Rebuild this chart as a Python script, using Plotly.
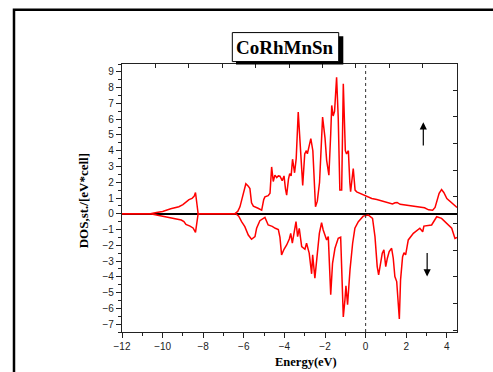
import plotly.graph_objects as go

# Spin-up DOS (energy in eV, states per eV per cell)
energy_up = [-12.0, -10.6, -10.3, -10.0, -9.6, -9.2, -9.0, -8.85, -8.7, -8.55, -8.45, -8.38, -8.3, -8.25,
             -6.45, -6.3, -6.19, -6.05, -5.9, -5.78, -5.7, -5.62, -5.53, -5.3, -5.12, -5.02, -4.96, -4.8,
             -4.71, -4.63, -4.55, -4.47, -4.38, -4.3, -4.22, -4.11, -4.02, -3.95, -3.89, -3.8, -3.74, -3.67,
             -3.6, -3.5, -3.42, -3.32, -3.24, -3.17, -3.1, -3.0, -2.92, -2.87, -2.8, -2.7, -2.6, -2.53,
             -2.47, -2.38, -2.27, -2.12, -2.0, -1.92, -1.81, -1.72, -1.67, -1.6, -1.53, -1.43, -1.35,
             -1.27, -1.18, -1.1, -1.0, -0.94, -0.85, -0.78, -0.74, -0.61, -0.52, -0.44, -0.2, 0.0, 0.3,
             0.55, 0.8, 1.0, 1.2, 1.32, 1.45, 1.55, 1.7, 2.0, 2.3, 2.6, 2.9, 3.1, 3.3, 3.42, 3.52, 3.62,
             3.74, 3.85, 4.0, 4.2, 4.35, 4.5]
dos_up = [0.0, 0.0, 0.08, 0.15, 0.32, 0.45, 0.58, 0.76, 0.9, 0.98, 1.1, 1.35, 0.5, 0.0,
          0.0, 0.15, 0.44, 1.2, 1.9, 1.75, 1.6, 0.7, 0.48, 0.35, 0.23, 0.9, 1.07, 1.15,
          1.3, 2.97, 2.05, 2.45, 2.3, 2.4, 2.38, 2.1, 2.4, 1.6, 1.18, 2.2, 2.55, 2.4,
          3.46, 2.6, 3.5, 6.45, 4.8, 3.4, 1.8, 3.8, 4.0, 3.8, 4.3, 4.77, 4.0, 1.7,
          0.44, 0.8, 2.0, 6.13, 4.8, 3.39, 2.45, 5.08, 6.87, 6.2, 6.5, 8.66, 6.1,
          1.5, 1.5, 8.24, 4.0, 3.8, 4.0, 2.0, 1.4, 2.87, 1.5, 1.39, 1.25, 1.12, 0.97,
          0.91, 0.82, 0.76, 0.7, 0.62, 0.7, 0.72, 0.6, 0.55, 0.5, 0.44, 0.38, 0.25, 0.22, 0.4, 0.9, 1.3,
          1.54, 1.35, 0.97, 0.72, 0.55, 0.4]

# Spin-down DOS (plotted as negative values)
energy_dn = [-12.0, -10.6, -10.3, -10.0, -9.5, -9.08, -8.95, -8.85, -8.65, -8.5, -8.38, -8.32, -8.25,
             -6.4, -6.25, -6.11, -5.95, -5.78, -5.62, -5.45, -5.37, -5.21, -4.96, -4.8, -4.6, -4.45,
             -4.3, -4.22, -4.14, -4.02, -3.89, -3.76, -3.69, -3.61, -3.5, -3.43, -3.35, -3.27, -3.15,
             -2.99, -2.91, -2.78, -2.66, -2.61, -2.5, -2.38, -2.28, -2.17, -2.09, -1.92, -1.84, -1.72,
             -1.63, -1.51, -1.35, -1.23, -1.18, -1.1, -1.02, -0.97, -0.89, -0.77, -0.64, -0.53, -0.36,
             -0.12, 0.13, 0.34, 0.46, 0.57, 0.64, 0.7, 0.82, 0.9, 0.99, 1.07, 1.16, 1.28, 1.36, 1.44,
             1.53, 1.66, 1.72, 1.82, 1.89, 1.97, 2.1, 2.35, 2.67, 2.81, 2.87, 3.25, 3.5, 3.74, 3.99,
             4.24, 4.4, 4.5]
dos_dn = [0.0, 0.0, -0.08, -0.15, -0.3, -0.4, -0.5, -0.68, -0.78, -0.9, -1.18, -0.6, 0.0,
          0.0, -0.15, -0.5, -0.82, -1.35, -1.62, -1.45, -0.92, -0.44, -0.23, -0.71, -0.8, -0.92,
          -1.0, -1.5, -2.61, -2.25, -1.98, -1.6, -1.24, -1.87, -1.0, -0.5, -1.45, -0.92, -2.09,
          -2.25, -1.87, -2.5, -3.81, -2.61, -4.08, -2.5, -1.24, -0.57, -1.03, -1.66, -1.45, -5.14,
          -3.14, -2.19, -1.56, -1.49, -3.35, -6.55, -5.46, -4.57, -5.77, -3.56, -1.87, -0.92, -0.5,
          -0.15, -0.08, -0.29, -1.45, -3.35, -3.88, -3.35, -2.5, -2.29, -3.35, -2.82, -2.4, -2.19, -2.82, -3.98,
          -4.3, -6.68, -4.19, -2.72, -2.47, -2.61, -1.66, -1.24, -0.92, -1.14, -0.78, -0.71, -0.19, -0.29, -0.61,
          -0.92, -1.56, -1.5]

x_ticks = [-12, -10, -8, -6, -4, -2, 0, 2, 4]
y_ticks = [-7, -6, -5, -4, -3, -2, -1, 0, 1, 2, 3, 4, 5, 6, 7, 8, 9]

RED = "#ff0000"
SERIF = "Liberation Serif, Times New Roman, serif"
SANS = "Liberation Sans, Arial, sans-serif"

fig = go.Figure()
fig.add_trace(go.Scatter(x=energy_up, y=dos_up, mode="lines",
                         line=dict(color=RED, width=1.5), showlegend=False))
fig.add_trace(go.Scatter(x=energy_dn, y=dos_dn, mode="lines",
                         line=dict(color=RED, width=1.5), showlegend=False))
# carrier trace for the mirrored top/right tick axes
fig.add_trace(go.Scatter(x=[None], y=[None], xaxis="x2", yaxis="y2",
                         showlegend=False, hoverinfo="skip"))

axis_font = dict(family=SANS, size=10, color="#222")

fig.update_layout(
    width=493, height=372,
    margin=dict(l=122, r=36, t=64, b=40),
    paper_bgcolor="white", plot_bgcolor="white",
    xaxis=dict(range=[-12, 4.5], tickvals=x_ticks, ticks="outside", ticklen=5,
               tickwidth=1, tickcolor="#222", showline=True, linecolor="#222",
               linewidth=1.3, mirror=True, showgrid=False, zeroline=False,
               tickfont=axis_font,
               minor=dict(dtick=1, tick0=0, ticks="outside", ticklen=3,
                          tickcolor="#222", showgrid=False)),
    yaxis=dict(range=[-7.5, 9.5], tickvals=y_ticks, ticks="outside", ticklen=5,
               tickwidth=1, tickcolor="#222", showline=True, linecolor="#222",
               linewidth=1.3, mirror=True, showgrid=False,
               zeroline=True, zerolinecolor="black", zerolinewidth=1.5,
               tickfont=axis_font,
               minor=dict(dtick=0.5, tick0=0, ticks="outside", ticklen=3,
                          tickcolor="#222", showgrid=False)),
    xaxis2=dict(overlaying="x", side="top", range=[0, 10.03], dtick=1, tick0=0,
                ticks="inside", ticklen=4, tickcolor="#222", showticklabels=False,
                showgrid=False, zeroline=False, showline=False),
    yaxis2=dict(overlaying="y", side="right", range=[-0.064, 9.985], dtick=1, tick0=0,
                ticks="inside", ticklen=4, tickcolor="#222", showticklabels=False,
                showgrid=False, zeroline=False, showline=False),
)

# Fermi level marker
fig.add_shape(type="line", xref="x", yref="paper", x0=0, x1=0, y0=0, y1=1,
              line=dict(color="#333", width=1, dash="dot"))

# outer frame
fig.add_shape(type="rect", xref="paper", yref="paper",
              x0=-0.3224, x1=1.25, y0=-0.3, y1=1.2022,
              line=dict(color="black", width=2.5), fillcolor="rgba(0,0,0,0)")

# title box with drop shadow
fig.add_shape(type="rect", xref="paper", yref="paper",
              x0=0.3403, x1=0.6606, y0=0.9978, y1=1.1034,
              line=dict(color="black", width=0), fillcolor="black")
fig.add_shape(type="rect", xref="paper", yref="paper",
              x0=0.3293, x1=0.6469, y0=1.009, y1=1.1172,
              line=dict(color="black", width=1), fillcolor="white")
fig.add_annotation(xref="paper", yref="paper", x=0.488, y=1.0623,
                   xanchor="center", yanchor="middle",
                   text="<b>CoRhMnSn</b>", showarrow=False,
                   font=dict(family=SERIF, size=19, color="black"))

# axis titles
fig.add_annotation(xref="paper", yref="paper", x=-0.1164, y=0.4877,
                   xanchor="center", yanchor="middle",
                   text="<b>DOS,st./[eV*cell]</b>", textangle=-90, showarrow=False,
                   font=dict(family=SERIF, size=13, color="black"))
fig.add_annotation(xref="paper", yref="paper", x=0.5478, y=-0.112,
                   xanchor="center", yanchor="middle",
                   text="<b>Energy(eV)</b>", showarrow=False,
                   font=dict(family=SERIF, size=12.5, color="black"))

# spin-direction arrows
fig.add_annotation(x=2.84, y=5.8, ax=2.84, ay=4.24, xref="x", yref="y",
                   axref="x", ayref="y", text="", showarrow=True,
                   arrowhead=2, arrowsize=1.2, arrowwidth=1.2, arrowcolor="black")
fig.add_annotation(x=3.03, y=-3.98, ax=3.03, ay=-2.4, xref="x", yref="y",
                   axref="x", ayref="y", text="", showarrow=True,
                   arrowhead=2, arrowsize=1.2, arrowwidth=1.2, arrowcolor="black")

fig.write_html("out.html")
